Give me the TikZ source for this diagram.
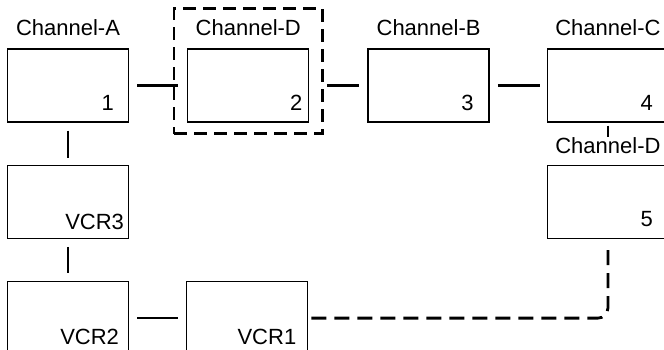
\documentclass[tikz,border=0pt]{standalone}
\usepackage{fontspec}
\setmainfont{Liberation Sans}
\usetikzlibrary{positioning,fit}
\tikzset{
  unit/.style={draw,line width=1.3pt,minimum width=121pt,minimum height=73pt,inner sep=0pt},
  chan/.style={inner sep=0pt,font=\fontsize{22}{26}\selectfont},
  num/.style={inner sep=0pt,font=\fontsize{22}{26}\selectfont},
  group/.style={draw,line width=2.6pt,dash pattern=on 13pt off 7pt,inner xsep=13pt,inner ysep=11pt},
  link/.style={line width=2.6pt,shorten <=8pt,shorten >=8pt},
  dashlink/.style={line width=2.8pt,dash pattern=on 15pt off 8pt,rounded corners=10pt}
}

\begin{document}
\begin{tikzpicture}[node distance=42pt and 58pt]
  \useasboundingbox (0,0) rectangle (664pt,-349pt);
  \clip (0,0) rectangle (664pt,-349pt);
  % units
  \node[unit] (b1) at (68pt,-85.5pt) {};
  \node[unit,right=of b1] (b2) {};
  \node[unit,right=of b2] (b3) {};
  \node[unit,right=57pt of b3] (b4) {};
  \node[unit,below=of b4] (b5) {};
  \node[unit,below=of b1] (v3) {};
  \node[unit,below=of v3] (v2) {};
  \node[unit,right=57pt of v2] (v1) {};
  % channel names
  \node[chan,above=12pt of b1] (lA) {Channel-A};
  \node[chan,above=12pt of b2] (lD) {Channel-D};
  \node[chan,above=12pt of b3] (lB) {Channel-B};
  \node[chan,above=12pt of b4] (lC) {Channel-C};
  \node[chan,below=15pt of b4] (lD5) {Channel-D};
  \node[group,fit=(b2) (lD)] (grp) {};
  % unit numbers
  \node[num,above left=12pt and 15pt of b1.south east] {1};
  \node[num,above left=12pt and 7pt of b2.south east] {2};
  \node[num,above left=12pt and 16pt of b3.south east] {3};
  \node[num,above left=12pt and 16pt of b4.south east] {4};
  \node[num,above left=12pt and 16pt of b5.south east] {5};
  \node[num,above left=9pt and 5pt of v3.south east] {VCR3};
  \node[num,above left=10pt and 10pt of v2.south east] {VCR2};
  \node[num,above left=10pt and 12pt of v1.south east] {VCR1};
  % links
  \draw[link,shorten >=9pt] (b1.east) -- (b2.west);
  \draw[link,shorten <=3pt] (grp.east |- b2) -- (b3.west);
  \draw[link,shorten >=7pt] (b3.east) -- (b4.west);
  \draw[link,line width=2pt,shorten <=3pt,shorten >=1pt] (b4.south) -- (lD5.north);
  \draw[link,shorten >=7pt] (b1.south) -- (v3.north);
  \draw[link] (v3.south) -- (v2.north);
  \draw[link] (v2.east) -- (v1.west);
  \draw[dashlink,shorten <=3pt,shorten >=5pt] (v1.east) -| (b5.south);
\end{tikzpicture}
\end{document}
